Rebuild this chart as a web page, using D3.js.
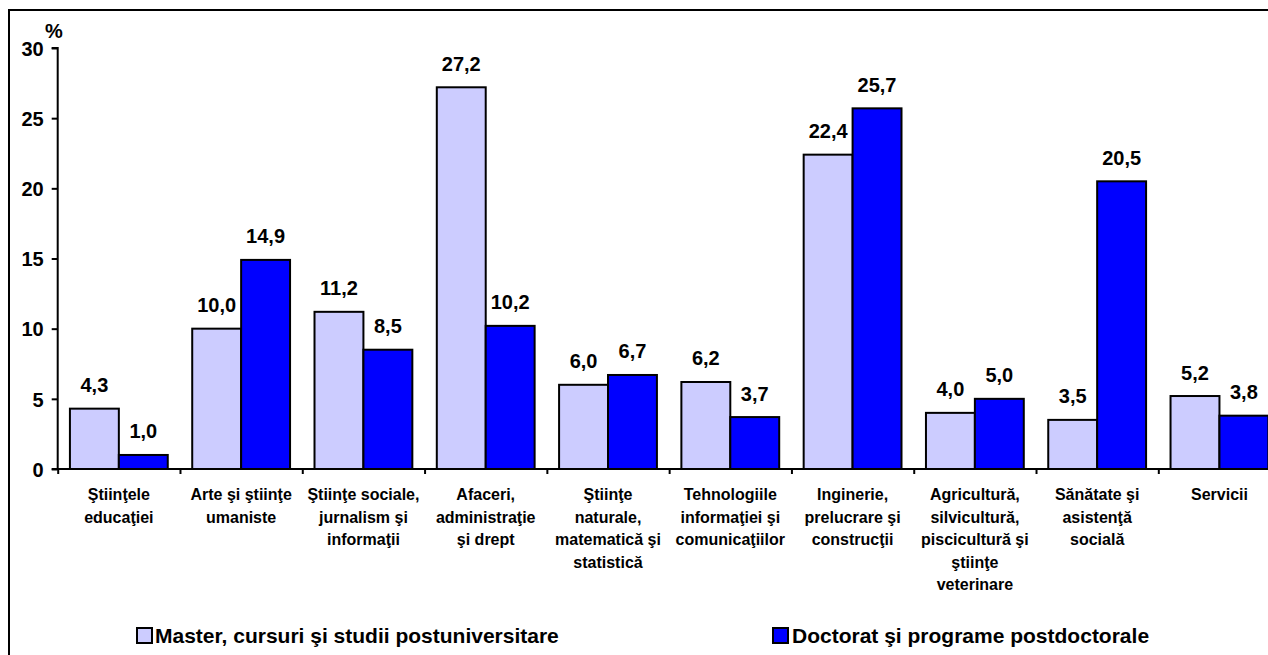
<!DOCTYPE html>
<html>
<head>
<meta charset="utf-8">
<script src="https://cdn.jsdelivr.net/npm/d3@7"></script>
<style>
  html, body { margin: 0; padding: 0; background: #fff; }
  svg { display: block; font-family: "Liberation Sans", Arial, sans-serif; font-weight: bold; }
</style>
</head>
<body>
<svg id="chart" width="1268" height="655"></svg>
<script>
// ---- data ----
const categories = [
  ["\u015etiin\u0163ele", "educa\u0163iei"],
  ["Arte \u015fi \u015ftiin\u0163e", "umaniste"],
  ["\u015etiin\u0163e sociale,", "jurnalism \u015fi", "informa\u0163ii"],
  ["Afaceri,", "administra\u0163ie", "\u015fi drept"],
  ["\u015etiin\u0163e", "naturale,", "matematic\u0103 \u015fi", "statistic\u0103"],
  ["Tehnologiile", "informa\u0163iei \u015fi", "comunica\u0163iilor"],
  ["Inginerie,", "prelucrare \u015fi", "construc\u0163ii"],
  ["Agricultur\u0103,", "silvicultur\u0103,", "piscicultur\u0103 \u015fi", "\u015ftiin\u0163e", "veterinare"],
  ["S\u0103n\u0103tate \u015fi", "asisten\u0163\u0103", "social\u0103"],
  ["Servicii"]
];
const seriesNames = ["Master, cursuri \u015fi studii postuniversitare", "Doctorat \u015fi programe postdoctorale"];
const masterValues = [4.3, 10.0, 11.2, 27.2, 6.0, 6.2, 22.4, 4.0, 3.5, 5.2];
const doctoratValues = [1.0, 14.9, 8.5, 10.2, 6.7, 3.7, 25.7, 5.0, 20.5, 3.8];
const yTicks = [0, 5, 10, 15, 20, 25, 30];
const seriesColors = ["#CCCCFF", "#0000FF"];

// ---- layout ----
const svg = d3.select("#chart");
const plotLeft = 57.7, plotRight = 1280.6, plotTop = 48, plotBottom = 469;

// frame
svg.append("rect")
  .attr("x", 9).attr("y", 10).attr("width", 1300).attr("height", 700)
  .attr("fill", "none").attr("stroke", "#000").attr("stroke-width", 2);

const idx = d3.range(categories.length);
const x0 = d3.scaleBand().domain(idx).range([plotLeft, plotRight]).paddingInner(0.2).paddingOuter(0.1);
const x1 = d3.scaleBand().domain([0, 1]).range([0, x0.bandwidth()]);
const y = d3.scaleLinear().domain([0, 30]).range([plotBottom, plotTop]);
const step = x0.step();
const fmt = v => d3.format(".1f")(v).replace(".", ",");

// bars
const series = [masterValues, doctoratValues];
series.forEach((vals, s) => {
  svg.append("g").selectAll("rect").data(vals).join("rect")
    .attr("x", (d, i) => x0(i) + x1(s))
    .attr("y", d => y(d))
    .attr("width", x1.bandwidth())
    .attr("height", d => y(0) - y(d))
    .attr("fill", seriesColors[s])
    .attr("stroke", "#000").attr("stroke-width", 2);
  svg.append("g").selectAll("text").data(vals).join("text")
    .attr("x", (d, i) => x0(i) + x1(s) + x1.bandwidth() / 2)
    .attr("y", d => y(d) - 16.5)
    .attr("text-anchor", "middle")
    .attr("font-size", 20)
    .text(d => fmt(d));
});

// y axis
const yAxis = d3.axisLeft(y).tickValues(yTicks).tickSize(6).tickPadding(8).tickFormat(d3.format("d"));
const gy = svg.append("g").attr("transform", `translate(${plotLeft},0)`).call(yAxis);
gy.select(".domain").attr("stroke", "#000").attr("stroke-width", 2).attr("d", `M-6,${plotTop}H0V${plotBottom}H-6`);
gy.selectAll(".tick line").attr("stroke", "#000").attr("stroke-width", 2);
gy.selectAll(".tick text").attr("font-size", 20).attr("font-family", "Liberation Sans, Arial, sans-serif")
  .attr("font-weight", "bold").attr("fill", "#000").attr("dy", "0.36em");

svg.append("text").attr("x", 45).attr("y", 38).attr("font-size", 20).text("%");

// x axis
const xTickScale = d3.scaleLinear().domain([0, categories.length]).range([plotLeft, plotLeft + step * categories.length]);
const xAxis = d3.axisBottom(xTickScale).tickValues(d3.range(categories.length + 1)).tickSize(5).tickFormat("");
const gx = svg.append("g").attr("transform", `translate(0,${plotBottom})`).call(xAxis);
gx.select(".domain").attr("stroke", "#000").attr("stroke-width", 2).attr("d", `M${plotLeft},0H${plotRight + 20}`);
gx.selectAll(".tick line").attr("stroke", "#000").attr("stroke-width", 2);

// category labels
const catG = svg.append("g");
categories.forEach((lines, i) => {
  const t = catG.append("text")
    .attr("x", x0(i) + x0.bandwidth() / 2)
    .attr("y", 500)
    .attr("text-anchor", "middle")
    .attr("font-size", 16);
  lines.forEach((ln, j) => {
    t.append("tspan").attr("x", x0(i) + x0.bandwidth() / 2).attr("y", 500 + j * 22.5).text(ln);
  });
});

// legend
const legendPos = [[137, 155], [773, 792]];
seriesNames.forEach((name, s) => {
  svg.append("rect").attr("x", legendPos[s][0]).attr("y", 628).attr("width", 15).attr("height", 15)
    .attr("fill", seriesColors[s]).attr("stroke", "#000").attr("stroke-width", 2);
  svg.append("text").attr("x", legendPos[s][1]).attr("y", 643).attr("font-size", 21).text(name);
});
</script>
</body>
</html>
